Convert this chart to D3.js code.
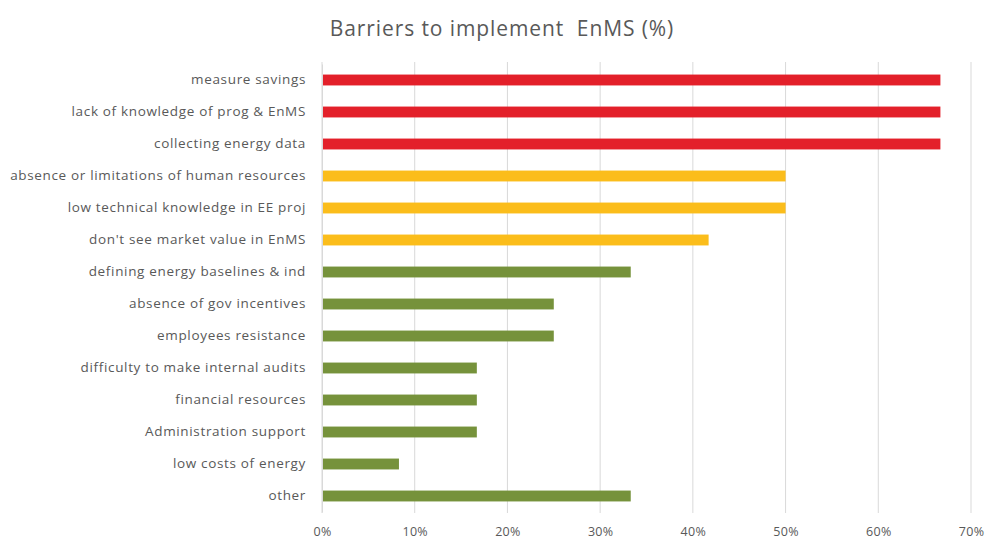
<!DOCTYPE html>
<html><head><meta charset="utf-8">
<script src="https://cdn.jsdelivr.net/npm/d3@7"></script>
<style>body{margin:0;background:#fff}svg{display:block}</style>
</head><body>
<script>
const categories = ["measure savings","lack of knowledge of prog & EnMS","collecting energy data","absence or limitations of human resources","low technical knowledge in EE proj","don't see market value in EnMS","defining energy baselines & ind","absence of gov incentives","employees resistance","difficulty to make internal audits","financial resources","Administration support","low costs of energy","other"];
const values = [66.7,66.7,66.7,50,50,41.7,33.3,25,25,16.7,16.7,16.7,8.3,33.3];
const groups = ["high","high","high","mid","mid","mid","low","low","low","low","low","low","low","low"];
const groupColors = {high:"#e3202a", mid:"#fbbd1b", low:"#76923b"};
const ticks = [0,10,20,30,40,50,60,70];
const title = "Barriers to implement\u00a0 EnMS (%)";

const W=987,H=540;
const svg=d3.select("body").append("svg").attr("width",W).attr("height",H);
const x=d3.scaleLinear().domain([0,70]).range([322,971]);
const y=d3.scaleBand().domain(categories).range([64,512]).paddingInner(0.66).paddingOuter(0.33);
const font="'Open Sans', sans-serif";
const grey="#595959";

svg.append("text").attr("x",502).attr("y",36).attr("text-anchor","middle")
  .attr("font-family",font).attr("font-size",21).attr("letter-spacing",0.9).attr("fill",grey).text(title);

svg.append("g").selectAll("line").data(ticks).join("line")
  .attr("x1",d=>x(d)).attr("x2",d=>x(d)).attr("y1",62).attr("y2",513)
  .attr("stroke","#d9d9d9").attr("stroke-width",1);

svg.append("g").selectAll("rect").data(categories).join("rect")
  .attr("x",x(0)).attr("y",d=>y(d)).attr("height",y.bandwidth())
  .attr("width",(d,i)=>x(values[i])-x(0)).attr("fill",(d,i)=>groupColors[groups[i]]);

const ax=svg.append("g").attr("transform","translate(0,513)")
  .call(d3.axisBottom(x).tickValues(ticks).tickFormat(d=>d+"%").tickSize(0).tickPadding(14));
ax.select(".domain").remove();
ax.selectAll("text").attr("font-family",font).attr("font-size",12.5).attr("letter-spacing",0.3).attr("fill",grey);

const ay=svg.append("g").attr("transform","translate(322,0)")
  .call(d3.axisLeft(y).tickSize(0).tickPadding(16));
ay.select(".domain").attr("stroke","#d9d9d9");
ay.selectAll("text").attr("font-family",font).attr("font-size",13.5).attr("letter-spacing",0.66).attr("fill",grey);
</script>
</body></html>
